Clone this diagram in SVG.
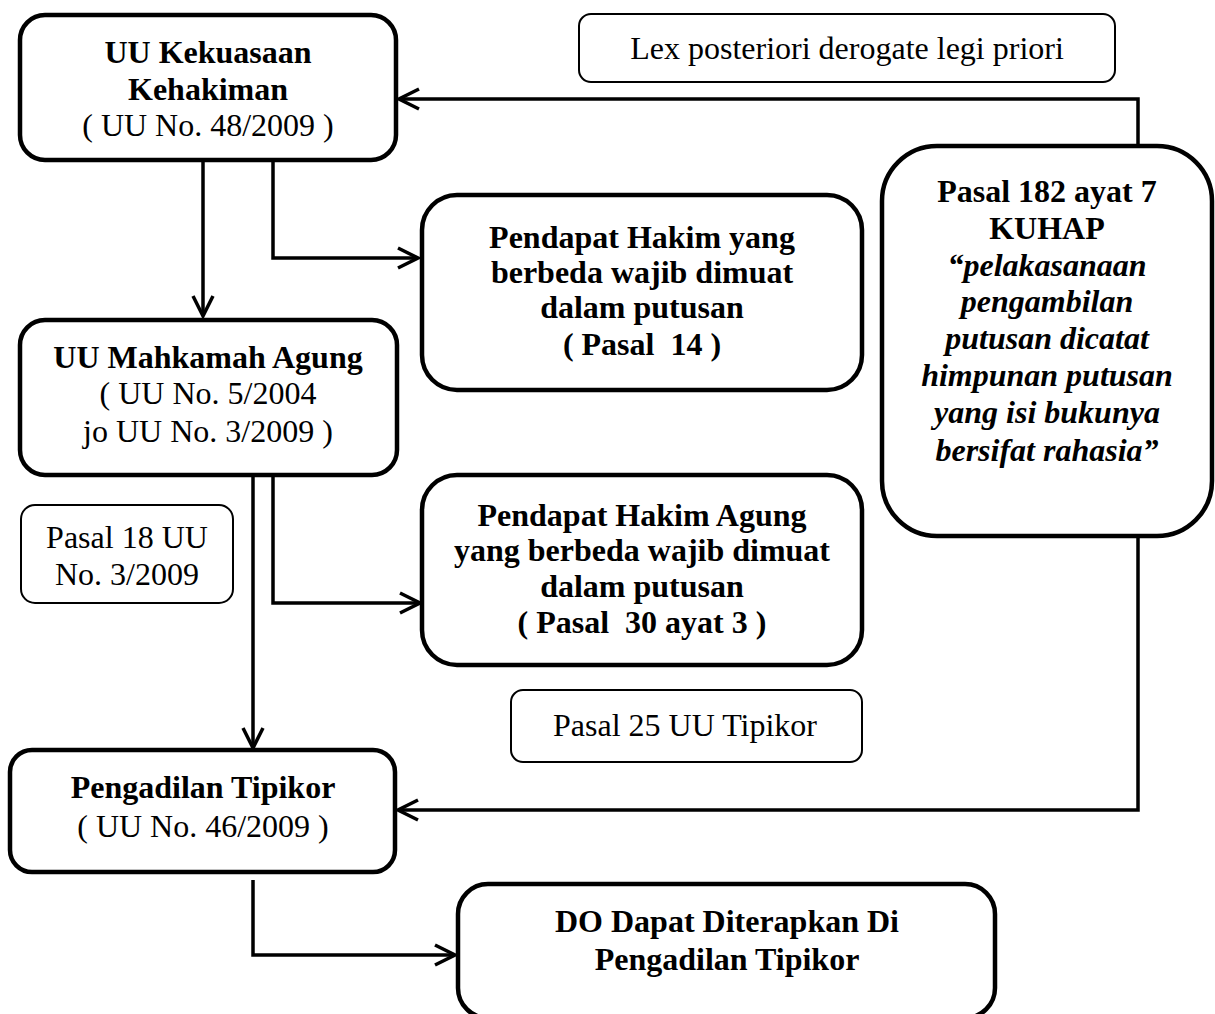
<svg xmlns="http://www.w3.org/2000/svg" width="1215" height="1014" viewBox="0 0 1215 1014">
<defs>
<style>
.box{fill:#fff;stroke:#000;stroke-width:4.5}
.sbox{fill:#fff;stroke:#000;stroke-width:2}
.t{font-family:'Liberation Serif','Times New Roman',Times,serif;font-size:32px;fill:#000;text-anchor:middle}
.b{font-weight:bold}
.i{font-style:italic}
.c{fill:none;stroke:#000;stroke-width:3.5}
</style>
<marker id="ah" viewBox="0 0 24 24" refX="22" refY="12" markerWidth="24" markerHeight="24" markerUnits="userSpaceOnUse" orient="auto">
<path d="M2,2 L22,12 L2,22" fill="none" stroke="#000" stroke-width="3.5"/>
</marker>
</defs>
<rect width="1215" height="1014" fill="#fff"/>
<g id="connectors">
<path class="c" d="M203,160 V316" marker-end="url(#ah)"/>
<path class="c" d="M273,160 V258 H418" marker-end="url(#ah)"/>
<path class="c" d="M1138,146 V99 H399" marker-end="url(#ah)"/>
<path class="c" d="M253,475 V748" marker-end="url(#ah)"/>
<path class="c" d="M273,475 V603 H420" marker-end="url(#ah)"/>
<path class="c" d="M1138,536 V810 H398" marker-end="url(#ah)"/>
<path class="c" d="M253,880 V955 H455" marker-end="url(#ah)"/>
</g>
<g id="uu-kekuasaan">
<rect class="box" x="20" y="15" width="376" height="145" rx="25"/>
<text class="t b" x="208" y="63">UU Kekuasaan</text>
<text class="t b" x="208" y="100">Kehakiman</text>
<text class="t" x="208" y="136">( UU No. 48/2009 )</text>
</g>
<g id="lex">
<rect class="sbox" x="579" y="14" width="536" height="68" rx="12"/>
<text class="t" x="847" y="59">Lex posteriori derogate legi priori</text>
</g>
<g id="pendapat-hakim">
<rect class="box" x="422" y="195" width="440" height="195" rx="35"/>
<text class="t b" x="642" y="248">Pendapat Hakim yang</text>
<text class="t b" x="642" y="283">berbeda wajib dimuat</text>
<text class="t b" x="642" y="318">dalam putusan</text>
<text class="t b" x="642" y="355" xml:space="preserve">( Pasal  14 )</text>
</g>
<g id="pasal-182">
<rect class="box" x="882" y="146" width="330" height="390" rx="55"/>
<text class="t b" x="1047" y="202">Pasal 182 ayat 7</text>
<text class="t b" x="1047" y="239">KUHAP</text>
<text class="t b i" x="1047" y="276">“pelakasanaan</text>
<text class="t b i" x="1047" y="312">pengambilan</text>
<text class="t b i" x="1047" y="349">putusan dicatat</text>
<text class="t b i" x="1047" y="386">himpunan putusan</text>
<text class="t b i" x="1047" y="423">yang isi bukunya</text>
<text class="t b i" x="1047" y="461">bersifat rahasia”</text>
</g>
<g id="uu-mahkamah-agung">
<rect class="box" x="20" y="320" width="377" height="155" rx="25"/>
<text class="t b" x="208" y="368">UU Mahkamah Agung</text>
<text class="t" x="208" y="404">( UU No. 5/2004</text>
<text class="t" x="208" y="442">jo UU No. 3/2009 )</text>
</g>
<g id="pasal-18">
<rect class="sbox" x="21" y="505" width="212" height="98" rx="14"/>
<text class="t" x="127" y="548">Pasal 18 UU</text>
<text class="t" x="127" y="585">No. 3/2009</text>
</g>
<g id="pendapat-hakim-agung">
<rect class="box" x="422" y="475" width="440" height="190" rx="35"/>
<text class="t b" x="642" y="526">Pendapat Hakim Agung</text>
<text class="t b" x="642" y="561">yang berbeda wajib dimuat</text>
<text class="t b" x="642" y="597">dalam putusan</text>
<text class="t b" x="642" y="633" xml:space="preserve">( Pasal  30 ayat 3 )</text>
</g>
<g id="pasal-25">
<rect class="sbox" x="511" y="690" width="351" height="72" rx="12"/>
<text class="t" x="685" y="736">Pasal 25 UU Tipikor</text>
</g>
<g id="pengadilan-tipikor">
<rect class="box" x="10" y="750" width="385" height="122" rx="22"/>
<text class="t b" x="203" y="798">Pengadilan Tipikor</text>
<text class="t" x="203" y="837">( UU No. 46/2009 )</text>
</g>
<g id="do-dapat">
<rect class="box" x="458" y="884" width="537" height="134" rx="30"/>
<text class="t b" x="727" y="932">DO Dapat Diterapkan Di</text>
<text class="t b" x="727" y="970">Pengadilan Tipikor</text>
</g>
</svg>
